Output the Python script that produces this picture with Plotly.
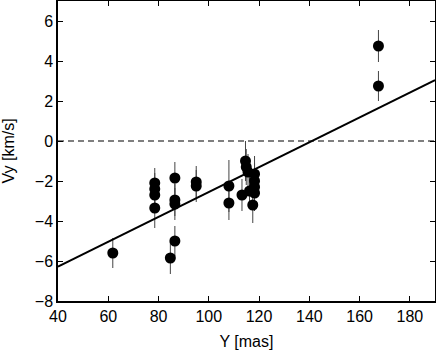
import numpy as np
import plotly.graph_objects as go

# dane
Y_mas = [61.8, 78.5, 78.5, 78.5, 78.5, 84.7, 86.5, 86.5, 86.5, 86.5,
         95.0, 95.0, 108.0, 108.0, 113.2, 114.6, 114.9, 115.6, 116.2, 117.5,
         118.2, 118.2, 118.2, 118.2, 167.5, 167.5]
Vy = [-5.6, -2.1, -2.4, -2.7, -3.35, -5.85, -1.85, -2.95, -3.15, -5.0,
      -2.05, -2.25, -2.25, -3.1, -2.7, -1.0, -1.3, -1.55, -2.5, -3.2,
      -1.65, -2.0, -2.3, -2.6, 4.75, 2.75]
Vy_err = [0.75, 0.75, 0.8, 0.8, 1.0, 0.8, 0.8, 0.8, 0.8, 0.75,
          0.8, 0.8, 1.3, 0.85, 0.8, 1.0, 0.9, 0.9, 0.9, 0.9,
          0.9, 0.9, 0.9, 0.9, 0.8, 0.75]

# dopasowana prosta
slope = 0.0622
intercept = -8.77
fit_x = [40, 190]

fig = go.Figure()

fig.add_trace(go.Scatter(
    x=Y_mas, y=Vy, mode="markers",
    marker=dict(color="black", size=11),
    error_y=dict(type="data", array=Vy_err, color="#444444", thickness=1, width=0),
    showlegend=False))

fx = np.array(fit_x)
fig.add_trace(go.Scatter(x=fx, y=intercept + slope * fx, mode="lines",
                         line=dict(color="black", width=2), showlegend=False))

fig.add_trace(go.Scatter(x=fit_x, y=[0, 0], mode="lines",
                         line=dict(color="black", width=1.2, dash="6px,4px"), showlegend=False))

axis_style = dict(showgrid=False, zeroline=False, showline=True, mirror="ticks",
                  linecolor="black", linewidth=1.5, ticks="inside", ticklen=5,
                  tickcolor="black", automargin=False,
                  tickfont=dict(size=16, color="black"))

fig.update_xaxes(range=[40, 190], tickvals=list(range(40, 181, 20)),
                 title=dict(text="Y [mas]", font=dict(size=16, color="black"), standoff=12),
                 **axis_style)
fig.update_yaxes(range=[-8, 7], tickvals=list(range(-8, 7, 2)),
                 title=dict(text="Vy [km/s]", font=dict(size=16, color="black"), standoff=16),
                 **axis_style)

fig.update_layout(width=436, height=356, margin=dict(l=58, r=1, t=1, b=55),
                  paper_bgcolor="white", plot_bgcolor="white",
                  font=dict(family="Liberation Sans, Arial, sans-serif"))

# bez marginesu strony
fig.write_html("out.html", config={"displayModeBar": False},
               post_script="document.body.style.margin='0';")
